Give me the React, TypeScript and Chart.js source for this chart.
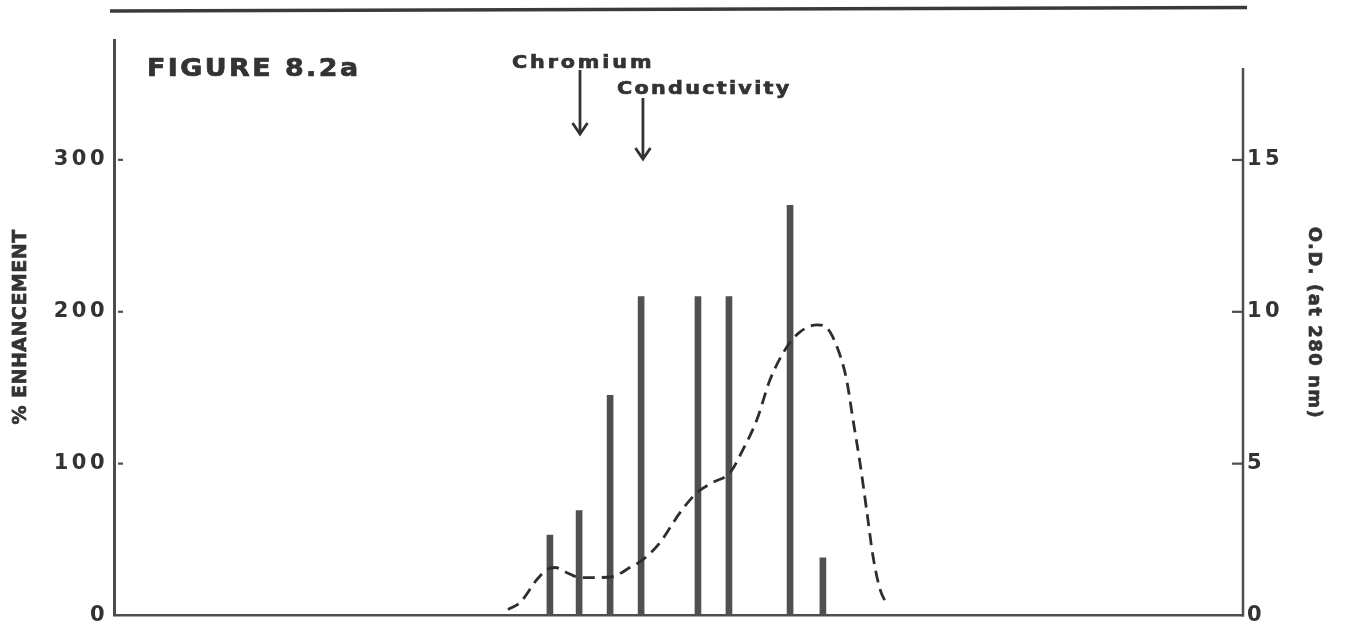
import React, { useEffect, useRef } from "react";
import { Chart, registerables } from "chart.js";

Chart.register(...registerables);

// Fraction numbers where enhancement was measured
const barFractions = [14.34, 15.3, 16.32, 17.34, 19.21, 20.23, 22.24, 23.32];
// % enhancement values (left axis)
const enhancement = [53, 69, 145, 210, 210, 210, 270, 38];

// O.D. (at 280 nm) profile (right axis)
const odFractions = [12.96, 13.36, 13.91, 14.24, 14.51, 14.9, 15.33, 15.89, 16.41, 16.97, 17.4, 17.96, 18.62, 19.18, 19.7, 20.26, 20.69, 21.15, 21.58, 22.14, 22.57, 23.13, 23.45, 23.82, 24.1, 24.31, 24.54, 24.77, 24.97, 25.2, 25.43];
const odValues = [0.2, 0.43, 1.18, 1.51, 1.58, 1.41, 1.25, 1.25, 1.28, 1.58, 1.84, 2.4, 3.39, 4.05, 4.38, 4.7, 5.46, 6.45, 7.76, 8.85, 9.34, 9.57, 9.47, 8.75, 7.76, 6.45, 5.03, 3.39, 1.94, 0.86, 0.36];

const leftTicks = [0, 100, 200, 300];
const rightTicks = [0, 5, 10, 15];
const leftMax = 378.9;
const rightMax = 18.95;
const rightAxisTop = 18.03;
const xMin = 0;
const xMax = 37.14;

const chromiumFraction = 15.33;
const conductivityFraction = 17.4;

const figureLabel = "FIGURE 8.2a";
const leftTitle = "% ENHANCEMENT";
const rightTitle = "O.D. (at 280 nm)";

const FONT = "'DejaVu Sans', 'Liberation Sans', sans-serif";
const INK = "#333333";
const AXIS = "#4d4d4d";

export default function App() {
  const ref = useRef<HTMLCanvasElement | null>(null);

  useEffect(() => {
    document.body.style.margin = "0";
    const canvas = ref.current;
    if (!canvas) return;

    const decor = {
      id: "decor",
      beforeDraw(chart: any) {
        (chart.ctx as any).letterSpacing = "3.5px";
      },
      afterDraw(chart: any) {
        const ctx = chart.ctx as any;
        ctx.save();
        ctx.letterSpacing = "0px";
        const xs = chart.scales.x;
        const ys = chart.scales.y;
        const y1 = chart.scales.y1;

        // top rule
        ctx.strokeStyle = "#3a3a3a";
        ctx.lineWidth = 3.5;
        ctx.beginPath();
        ctx.moveTo(110, 11);
        ctx.lineTo(1247, 7.5);
        ctx.stroke();

        // right axis line
        const rx = y1.left;
        ctx.strokeStyle = AXIS;
        ctx.lineWidth = 2.5;
        ctx.beginPath();
        ctx.moveTo(rx, y1.getPixelForValue(0) + 1);
        ctx.lineTo(rx, y1.getPixelForValue(rightAxisTop));
        ctx.stroke();

        // tick dashes
        ctx.lineWidth = 2.2;
        ys.ticks.forEach((t: any) => {
          if (t.value === 0) return;
          const py = ys.getPixelForValue(t.value);
          ctx.beginPath();
          ctx.moveTo(ys.right + 4, py);
          ctx.lineTo(ys.right + 9, py);
          ctx.stroke();
        });
        y1.ticks.forEach((t: any) => {
          if (t.value === 0) return;
          const py = y1.getPixelForValue(t.value);
          ctx.beginPath();
          ctx.moveTo(rx - 11, py);
          ctx.lineTo(rx, py);
          ctx.stroke();
        });

        ctx.fillStyle = INK;
        ctx.strokeStyle = INK;
        const boldText = (s: string, x: number, y: number, sx = 1) => {
          ctx.save();
          ctx.translate(x, y);
          ctx.scale(sx, 1);
          ctx.lineWidth = 0.7;
          ctx.fillText(s, 0, 0);
          ctx.strokeText(s, 0, 0);
          ctx.restore();
        };

        // axis titles
        ctx.font = `bold 19px ${FONT}`;
        ctx.textAlign = "center";
        ctx.textBaseline = "middle";
        ctx.letterSpacing = "0.5px";
        ctx.save();
        ctx.translate(21, 327);
        ctx.rotate(-Math.PI / 2);
        boldText(leftTitle, 0, 0);
        ctx.restore();
        ctx.save();
        ctx.translate(1314, 323);
        ctx.rotate(Math.PI / 2);
        ctx.letterSpacing = "1.5px";
        ctx.font = `bold 18px ${FONT}`;
        boldText(rightTitle, 0, 0);
        ctx.restore();

        // figure label
        ctx.textAlign = "left";
        ctx.textBaseline = "alphabetic";
        ctx.font = `bold 24px ${FONT}`;
        ctx.letterSpacing = "2.2px";
        boldText(figureLabel, 147, 76, 1.12);

        // annotations
        ctx.font = `bold 18px ${FONT}`;
        ctx.letterSpacing = "2.5px";
        boldText("Chromium", 512, 68, 1.15);
        ctx.letterSpacing = "2px";
        boldText("Conductivity", 617, 94, 1.15);

        const arrow = (x: number, yTop: number, yTip: number) => {
          ctx.strokeStyle = INK;
          ctx.lineWidth = 2.8;
          ctx.beginPath();
          ctx.moveTo(x, yTop);
          ctx.lineTo(x, yTip);
          ctx.stroke();
          ctx.beginPath();
          ctx.moveTo(x - 7.5, yTip - 11);
          ctx.lineTo(x, yTip);
          ctx.lineTo(x + 7.5, yTip - 11);
          ctx.stroke();
        };
        arrow(xs.getPixelForValue(chromiumFraction), 70, 134);
        arrow(xs.getPixelForValue(conductivityFraction), 98, 159);

        ctx.restore();
      },
    };

    const chart = new Chart(canvas, {
      type: "bar",
      data: {
        datasets: [
          {
            type: "bar",
            label: "% Enhancement",
            data: barFractions.map((x, i) => ({ x, y: enhancement[i] })),
            backgroundColor: "#505050",
            barThickness: 6,
            yAxisID: "y",
            order: 2,
          } as any,
          {
            type: "line",
            label: "O.D.",
            data: odFractions.map((x, i) => ({ x, y: odValues[i] })),
            borderColor: "#2e2e2e",
            borderWidth: 2.8,
            borderDash: [12, 7],
            pointRadius: 0,
            cubicInterpolationMode: "monotone",
            fill: false,
            yAxisID: "y1",
            order: 1,
          } as any,
        ],
      },
      options: {
        responsive: false,
        animation: false,
        events: [],
        layout: { padding: { top: 40, left: 0, right: 0, bottom: 0 } },
        plugins: { legend: { display: false }, tooltip: { enabled: false } },
        scales: {
          x: {
            type: "linear",
            min: xMin,
            max: xMax,
            offset: false,
            grid: { display: false, drawTicks: false, offset: false },
            border: { display: true, color: AXIS, width: 2.5 },
            ticks: { display: false },
            afterFit: (s: any) => {
              s.height = 16;
            },
          },
          y: {
            type: "linear",
            position: "left",
            min: 0,
            max: leftMax,
            grid: { display: false, drawTicks: false },
            border: { display: true, color: AXIS, width: 3 },
            afterBuildTicks: (s: any) => {
              s.ticks = leftTicks.map((v) => ({ value: v }));
            },
            ticks: {
              color: INK,
              padding: 6,
              font: { family: FONT, size: 21, weight: "bold", lineHeight: 1 },
              callback: (v: any) => String(v),
            },
            afterFit: (s: any) => {
              s.width = 114;
            },
          },
          y1: {
            type: "linear",
            position: "right",
            min: 0,
            max: rightMax,
            grid: { display: false, drawTicks: false },
            border: { display: false },
            afterBuildTicks: (s: any) => {
              s.ticks = rightTicks.map((v) => ({ value: v }));
            },
            ticks: {
              color: INK,
              padding: 4,
              font: { family: FONT, size: 21, weight: "bold", lineHeight: 1 },
              callback: (v: any) => String(v),
            },
            afterFit: (s: any) => {
              s.width = 103;
            },
          },
        },
      } as any,
      plugins: [decor],
    });

    return () => chart.destroy();
  }, []);

  return (
    <canvas
      ref={ref}
      width={1346}
      height={632}
      style={{ display: "block", width: 1346, height: 632 }}
    />
  );
}
